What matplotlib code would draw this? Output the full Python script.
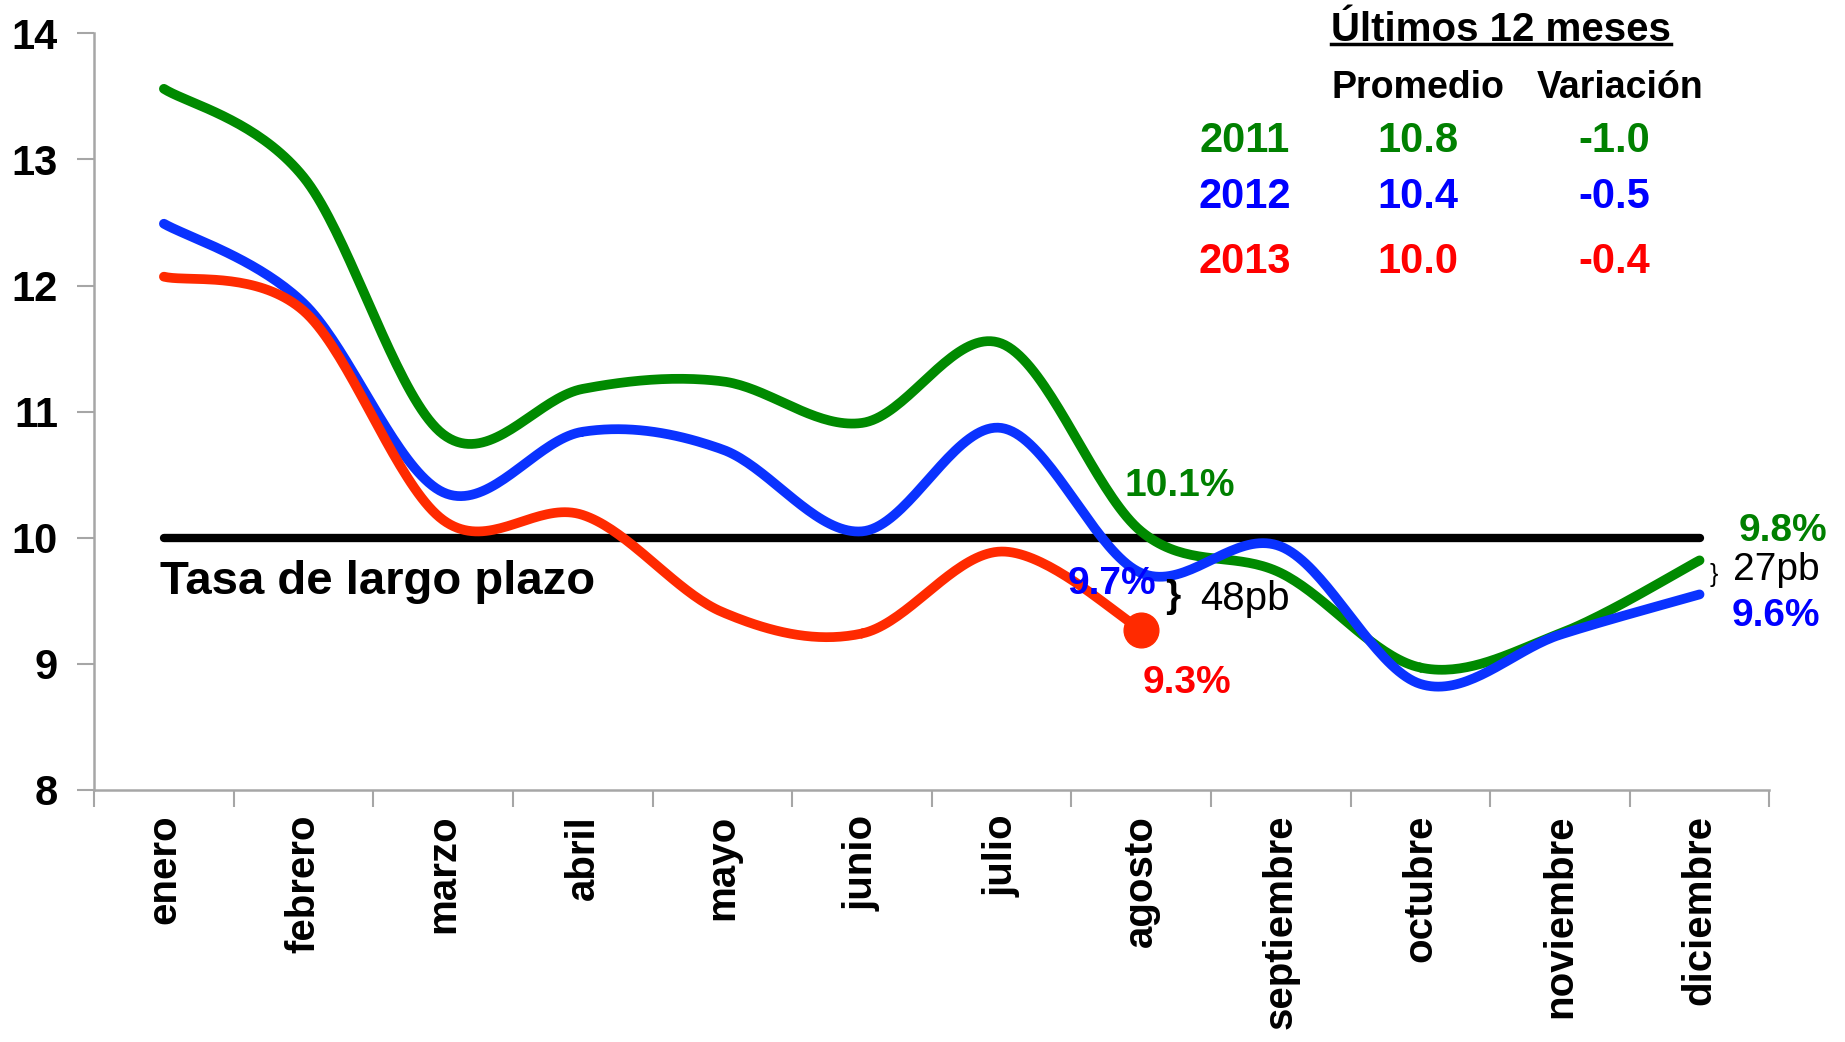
import numpy as np
import matplotlib
matplotlib.use("Agg")
import matplotlib.pyplot as plt
from matplotlib.lines import Line2D

plt.rcParams['font.family'] = ['Liberation Sans', 'DejaVu Sans']

# data
meses = ['enero', 'febrero', 'marzo', 'abril', 'mayo', 'junio', 'julio',
         'agosto', 'septiembre', 'octubre', 'noviembre', 'diciembre']
tasa_2011 = [13.56, 12.86, 10.82, 11.18, 11.24, 10.91, 11.54, 10.05, 9.72, 8.97, 9.24, 9.82]
tasa_2012 = [12.49, 11.86, 10.36, 10.84, 10.70, 10.05, 10.87, 9.72, 9.93, 8.84, 9.23, 9.55]
tasa_2013 = [12.07, 11.80, 10.14, 10.18, 9.41, 9.24, 9.89, 9.27]
largo_plazo = 10.0

anios = ['2011', '2012', '2013']
promedio = ['10.8', '10.4', '10.0']
variacion = ['-1.0', '-0.5', '-0.4']

c_green = '#008a00'
c_blue = '#0a32ff'
c_red = '#ff2a00'
t_green = '#008000'
t_blue = '#0000ff'
t_red = '#ff0000'


def smooth(y, n=40):
    # catmull-rom curve through the points, like excel's smoothed line
    y = np.asarray(y, dtype=float)
    x = np.arange(len(y), dtype=float)
    px = np.concatenate([[x[0]], x, [x[-1]]])
    py = np.concatenate([[y[0]], y, [y[-1]]])
    xs, ys = [], []
    t = np.linspace(0, 1, n)
    for i in range(1, len(px) - 2):
        for p, out in ((px, xs), (py, ys)):
            p0, p1, p2, p3 = p[i - 1], p[i], p[i + 1], p[i + 2]
            out.append(0.5 * ((2 * p1) + (-p0 + p2) * t
                              + (2 * p0 - 5 * p1 + 4 * p2 - p3) * t ** 2
                              + (-p0 + 3 * p1 - 3 * p2 + p3) * t ** 3))
    return np.concatenate(xs), np.concatenate(ys)


fig = plt.figure(figsize=(18.45, 10.42), dpi=100)
ax = fig.add_axes([0.051, 0.242, 0.908, 0.726])

lw = 7
ax.plot([0, len(meses) - 1], [largo_plazo, largo_plazo], color='black', lw=6,
        solid_capstyle='round', zorder=2)
for serie, col in ((tasa_2011, c_green), (tasa_2012, c_blue), (tasa_2013, c_red)):
    sx, sy = smooth(serie)
    ax.plot(sx, sy, color=col, lw=lw, solid_capstyle='round', zorder=3)
ax.plot(len(tasa_2013) - 1, tasa_2013[-1], 'o', color=c_red, ms=25, zorder=4)

ax.set_xlim(-0.5, 11.5)
ax.set_ylim(8, 14)
ax.set_yticks(range(8, 15))
ax.set_xticks(np.arange(-0.5, 12, 1.0))
ax.set_xticklabels([])
ax.set_xticks(range(12), minor=True)
ax.set_xticklabels(meses, minor=True, rotation=90, fontsize=29, fontweight='bold')
ax.tick_params(axis='x', which='minor', length=0, pad=18)
ax.tick_params(axis='x', which='major', length=12, width=1.5, color='#a6a6a6')
ax.tick_params(axis='y', length=12, width=1.5, color='#a6a6a6', pad=14)
for lab in ax.get_yticklabels():
    lab.set_fontsize(30)
    lab.set_fontweight('bold')
for s in ('top', 'right'):
    ax.spines[s].set_visible(False)
for s in ('left', 'bottom'):
    ax.spines[s].set_color('#a6a6a6')
    ax.spines[s].set_linewidth(1.8)

# annotations
ax.text(-0.03, 9.65, 'Tasa de largo plazo', fontsize=34, fontweight='bold',
        ha='left', va='center')
ax.text(7.28, 10.41, '10.1%', color=t_green, fontsize=28, fontweight='bold', ha='center', va='center')
ax.text(6.79, 9.63, '9.7%', color=t_blue, fontsize=28, fontweight='bold', ha='center', va='center')
ax.text(7.23, 9.53, '}', fontsize=28, fontweight='bold', ha='center', va='center')
ax.text(7.74, 9.51, '48pb', fontsize=29, ha='center', va='center')
ax.text(7.33, 8.85, '9.3%', color=t_red, fontsize=28, fontweight='bold', ha='center', va='center')
ax.text(11.60, 10.05, '9.8%', color=t_green, fontsize=28, fontweight='bold', ha='center', va='center')
ax.text(11.10, 9.70, '}', fontsize=18, ha='center', va='center')
ax.text(11.55, 9.74, '27pb', fontsize=28, ha='center', va='center')
ax.text(11.55, 9.38, '9.6%', color=t_blue, fontsize=28, fontweight='bold', ha='center', va='center')

# summary table
titulo = ax.text(9.58, 14.03, 'Últimos 12 meses', fontsize=29, fontweight='bold',
                 ha='center', va='center')
ax.text(8.98, 13.57, 'Promedio', fontsize=27, fontweight='bold', ha='center', va='center')
ax.text(10.43, 13.57, 'Variación', fontsize=27, fontweight='bold', ha='center', va='center')
filas_y = [13.15, 12.70, 12.19]
for a, p, v, fy, col in zip(anios, promedio, variacion, filas_y, (t_green, t_blue, t_red)):
    ax.text(7.74, fy, a, color=col, fontsize=30, fontweight='bold', ha='center', va='center')
    ax.text(8.98, fy, p, color=col, fontsize=30, fontweight='bold', ha='center', va='center')
    ax.text(10.39, fy, v, color=col, fontsize=30, fontweight='bold', ha='center', va='center')

# underline the table title
fig.canvas.draw()
bb = titulo.get_window_extent(fig.canvas.get_renderer())
bb = bb.transformed(fig.transFigure.inverted())
fig.add_artist(Line2D([bb.x0, bb.x1], [bb.y0 + 0.004, bb.y0 + 0.004],
                      color='black', lw=2.5, transform=fig.transFigure))

fig.savefig('out.png', dpi=100)
